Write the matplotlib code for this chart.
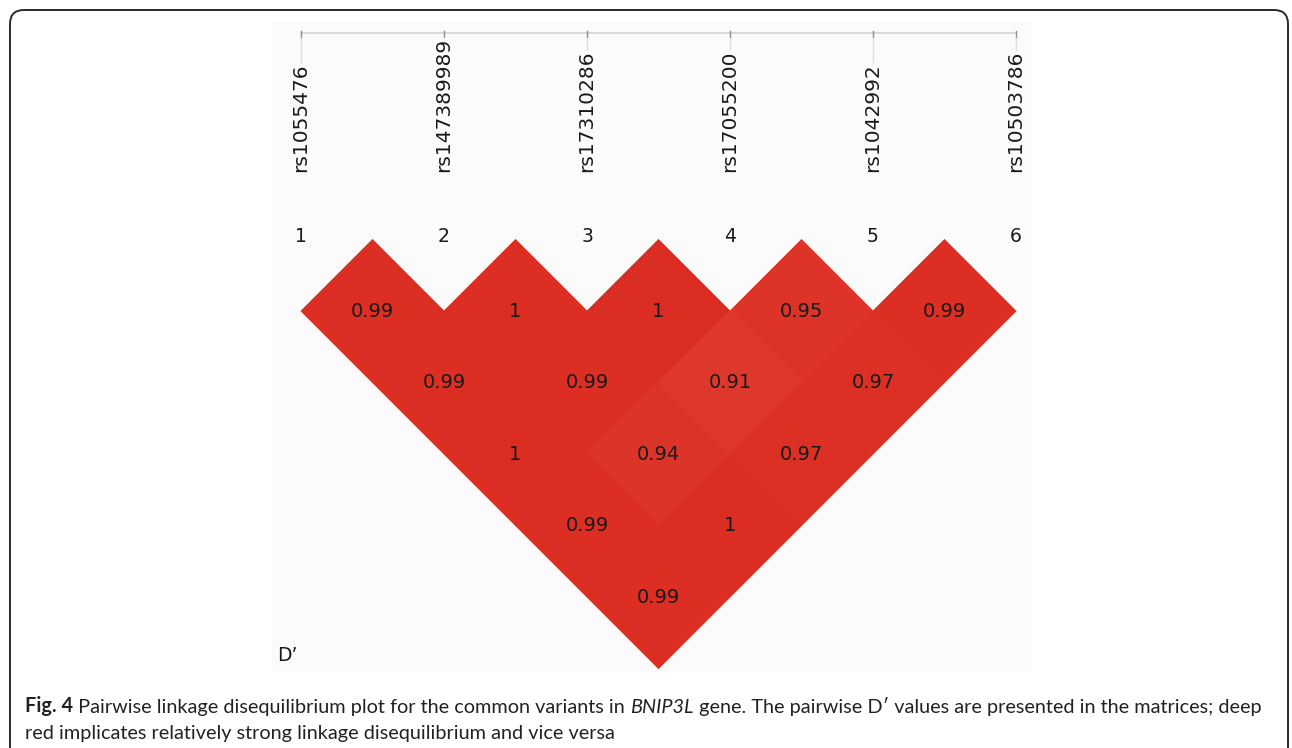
import matplotlib
matplotlib.use('Agg')
import matplotlib.pyplot as plt
from matplotlib.patches import Polygon, FancyBboxPatch
from matplotlib.colors import LinearSegmentedColormap, Normalize

# SNP markers in order along the gene
snps = ['rs1055476', 'rs147389989', 'rs17310286', 'rs17055200', 'rs1042992', 'rs10503786']
snp_idx = [1, 2, 3, 4, 5, 6]

# pairwise D' values, one list per distance between markers (1 = neighbours)
dp_dist1 = [0.99, 1, 1, 0.95, 0.99]
dp_dist2 = [0.99, 0.99, 0.91, 0.97]
dp_dist3 = [1, 0.94, 0.97]
dp_dist4 = [0.99, 1]
dp_dist5 = [0.99]
dp_rows = [dp_dist1, dp_dist2, dp_dist3, dp_dist4, dp_dist5]

cap_line1 = ['Fig. 4', ' Pairwise linkage disequilibrium plot for the common variants in ', 'BNIP3L',
             ' gene. The pairwise D\u2032 values are presented in the matrices; deep']
cap_line2 = 'red implicates relatively strong linkage disequilibrium and vice versa'

W, H = 1292, 748
fig = plt.figure(figsize=(W / 100, H / 100), dpi=100)

# page-level axes in pixel units for frame and caption
page = fig.add_axes([0, 0, 1, 1])
page.set_xlim(0, W)
page.set_ylim(H, 0)
page.axis('off')
page.add_patch(FancyBboxPatch((10, 10), 1278, 780, boxstyle='round,pad=0,rounding_size=14',
                              fill=False, ec='#2a2a2a', lw=1.4))

capfont = ['Lato', 'DejaVu Sans']
capsize = 14.3
t = page.text(25, 712, cap_line1[0], fontsize=capsize, weight='bold', family=capfont,
              va='baseline', ha='left', color='#222')
styles = ['normal', 'italic', 'normal']
for txt, st in zip(cap_line1[1:], styles):
    t = page.annotate(txt, xy=(1, 0), xycoords=t, va='bottom', ha='left', fontsize=capsize,
                      style=st, family=capfont, color='#222')
page.text(25, 739, cap_line2, fontsize=capsize, family=capfont, va='baseline', ha='left', color='#222')

# LD plot axes: x in marker units, y in same units downwards
ax = fig.add_axes([272 / W, 1 - 672 / H, 760 / W, 650 / H])
ax.set_xlim(0.797, 6.112)
ax.set_ylim(3.024, -1.521)
ax.set_facecolor('#fbfbfb')
for s in ax.spines.values():
    s.set_visible(False)
ax.set_xticks([])
ax.set_yticks([])

cmap = LinearSegmentedColormap.from_list('ld', ['#ffffff', '#dc2d22'])
norm = Normalize(vmin=-0.8, vmax=1.0)

for d, row in enumerate(dp_rows, start=1):
    for k, v in enumerate(row):
        i = snp_idx[k]
        cx, cy = i + d / 2, d / 2
        col = cmap(norm(v))
        ax.add_patch(Polygon([(cx - 0.5, cy), (cx, cy - 0.5), (cx + 0.5, cy), (cx, cy + 0.5)],
                             closed=True, fc=col, ec=col, lw=0.6))
        ax.text(cx, cy, f'{v:g}', ha='center', va='center', fontsize=14, color='#1a1a1a')

# marker ruler and names
ax.plot([snp_idx[0], snp_idx[-1]], [-1.444, -1.444], color='#d0d4d8', lw=1.2)
for i, name in zip(snp_idx, snps):
    ax.plot([i, i], [-1.46, -1.41], color='#8a8f94', lw=1)
    ax.plot([i, i], [-1.41, -0.5], color='#dde1e4', lw=1)
    ax.text(i, -0.472, name, rotation=90, ha='center', va='bottom', fontsize=14.5, color='#1a1a1a',
            bbox=dict(fc='#fbfbfb', ec='none', pad=0))
    ax.text(i, -0.02, str(i), ha='center', va='center', fontsize=13.5, color='#1a1a1a')

ax.text(0.902, 2.906, 'D\u2019', ha='center', va='center', fontsize=13.5, color='#1a1a1a')

fig.savefig('out.png', dpi=100)
